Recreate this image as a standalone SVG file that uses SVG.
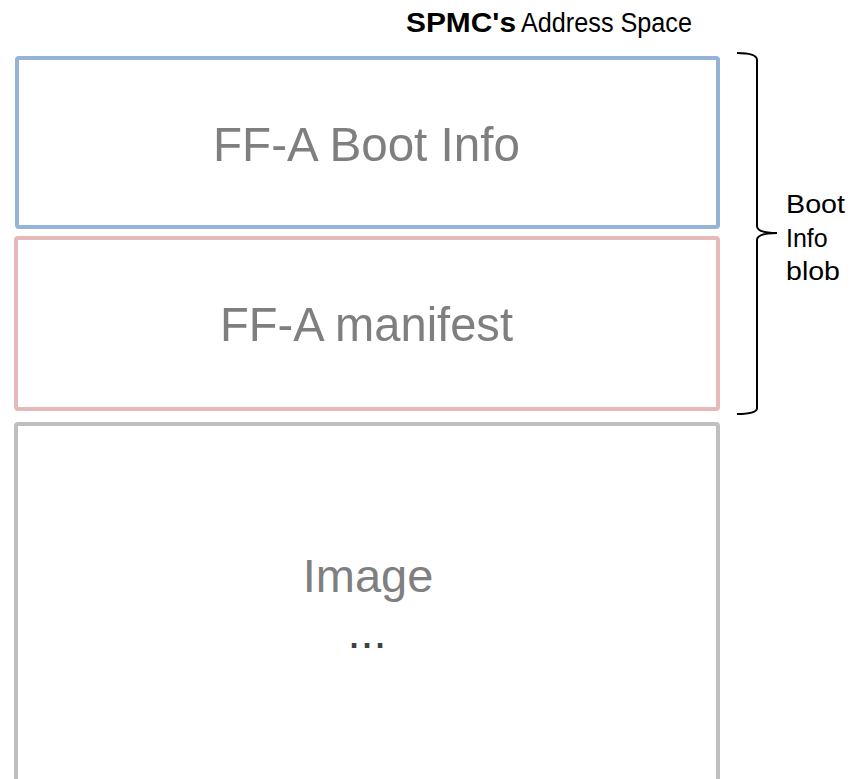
<svg xmlns="http://www.w3.org/2000/svg" width="854" height="779" viewBox="0 0 854 779">
<style>
.box{fill:#ffffff;stroke-width:4}
.big{font-family:"Liberation Sans",Arial,sans-serif;font-size:49px;fill:#7f7f7f}
.lbl{font-family:"Liberation Sans",Arial,sans-serif;font-size:25px;fill:#000000}
</style>
<rect width="854" height="779" fill="#ffffff"/>
<g id="title">
<text class="lbl" x="406" y="32" style="font-size:27px"><tspan font-weight="bold" textLength="110" lengthAdjust="spacingAndGlyphs">SPMC's</tspan> <tspan x="521" textLength="171" lengthAdjust="spacingAndGlyphs">Address Space</tspan></text>
</g>
<g id="boot-info">
<rect class="box" x="17" y="58" width="701" height="169" rx="2" stroke="#95b3d7"/>
<text class="big" x="213" y="161" textLength="307" lengthAdjust="spacingAndGlyphs">FF-A Boot Info</text>
</g>
<g id="manifest">
<rect class="box" x="16" y="238" width="702" height="171" rx="2" stroke="#e6b9b8"/>
<text class="big" x="220" y="341" textLength="293" lengthAdjust="spacingAndGlyphs">FF-A manifest</text>
</g>
<g id="image">
<rect class="box" x="16" y="424" width="702" height="380" rx="2" stroke="#bfbfbf"/>
<text class="big" x="368" y="592" text-anchor="middle" style="font-size:47px">Image</text>
<text class="big" x="367" y="648" text-anchor="middle" style="font-size:47px;fill:#404040">...</text>
</g>
<g id="connectors">
<path d="M737 53 Q757 53 757 60 L757 226 Q757 233 777 233 Q757 233 757 240 L757 408 Q757 414 737 414" fill="none" stroke="#000000" stroke-width="2"/>
</g>
<g id="blob-label">
<text class="lbl" x="786" y="213" textLength="59" lengthAdjust="spacingAndGlyphs">Boot</text>
<text class="lbl" x="786" y="247">Info</text>
<text class="lbl" x="786" y="280" textLength="54" lengthAdjust="spacingAndGlyphs">blob</text>
</g>
</svg>
